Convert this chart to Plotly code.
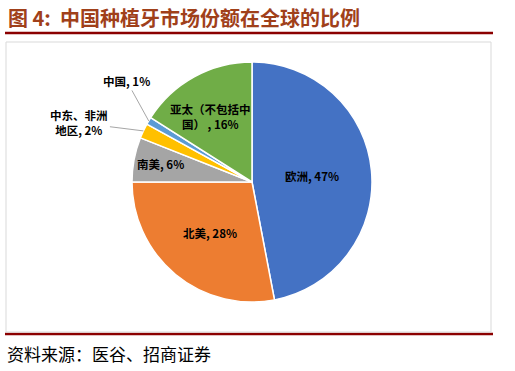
import math
import plotly.graph_objects as go

W, H = 515, 371

regions = ["欧洲", "北美", "南美", "中东、非洲地区", "中国", "亚太（不包括中国）"]
display_labels = ["欧洲", "北美", "南美", "中东、非洲<br>地区", "中国", "亚太（不包括中<br>国）"]
shares = [47, 28, 6, 2, 1, 16]
colors = ["#4472C4", "#ED7D31", "#A5A5A5", "#FFC000", "#5B9BD5", "#70AD47"]
inside_label = [True, True, True, False, False, True]

title_text = "图 4:\u00a0\u00a0中国种植牙市场份额在全球的比例"
source_text = "资料来源：医谷、招商证券"

texts = []
for l, v in zip(display_labels, shares):
    sep = " , " if l.endswith("）") else ", "
    texts.append(f"<b>{l}{sep}{v}%</b>")

def px(x):
    return x / W

def py(y):
    return 1 - y / H

# pie geometry in pixels
cx, cy, r = 252, 182, 120
font_family = "Noto Sans CJK SC"

fig = go.Figure()
fig.add_trace(go.Pie(
    labels=regions,
    values=shares,
    textinfo="none",
    sort=False,
    direction="clockwise",
    rotation=0,
    marker=dict(colors=colors, line=dict(color="white", width=1.5)),
    showlegend=False,
    hoverinfo="label+percent",
    domain=dict(x=[px(cx - r), px(cx + r)], y=[py(cy + r), py(cy - r)]),
))

# label placement (styles)
inside_radius = {0: 0.5, 1: 0.55, 2: 0.78, 5: 0.62}
inside_shift = {0: (0, 0), 1: (0, 0), 2: (0, 0), 5: (-6, 0)}
outside_offset = {3: (-64, -8), 4: (-22, -40)}

total = sum(shares)
annotations = []
cum = 0
for i, v in enumerate(shares):
    mid = (cum + v / 2) / total * 2 * math.pi
    cum += v
    if inside_label[i]:
        f = inside_radius[i]
        lx = cx + f * r * math.sin(mid)
        ly = cy - f * r * math.cos(mid)
        sx, sy = inside_shift[i]
        annotations.append(dict(
            text=texts[i], xref="paper", yref="paper", x=px(lx), y=py(ly),
            xshift=sx, yshift=sy, showarrow=False, xanchor="center", yanchor="middle",
            font=dict(family=font_family, size=11.5, color="#000000"),
        ))
    else:
        ex = cx + r * math.sin(mid)
        ey = cy - r * math.cos(mid)
        ax, ay = outside_offset[i]
        annotations.append(dict(
            text=texts[i], xref="paper", yref="paper", x=px(ex), y=py(ey),
            ax=ax, ay=ay, showarrow=True, arrowhead=0, arrowwidth=1, arrowcolor="#A6A6A6",
            font=dict(family=font_family, size=11.5, color="#000000"),
        ))

annotations += [
    dict(text="<b>" + title_text + "</b>", xref="paper", yref="paper", x=px(6), y=py(18),
         xanchor="left", yanchor="middle", showarrow=False,
         font=dict(family=font_family, size=20, color="#A0401A")),
    dict(text=source_text, xref="paper", yref="paper", x=px(5), y=py(353),
         xanchor="left", yanchor="middle", showarrow=False,
         font=dict(family=font_family, size=17, color="#000000")),
]

shapes = [
    dict(type="line", xref="paper", yref="paper", x0=px(5), x1=px(493), y0=py(33), y1=py(33),
         line=dict(color="#8B0000", width=2.5)),
    dict(type="line", xref="paper", yref="paper", x0=px(5), x1=px(493), y0=py(334), y1=py(334),
         line=dict(color="#8B0000", width=2.5)),
    dict(type="rect", xref="paper", yref="paper", x0=px(6), x1=px(491), y0=py(332), y1=py(42),
         line=dict(color="#D9D9D9", width=1), fillcolor="rgba(0,0,0,0)"),
]

fig.update_layout(
    width=W, height=H,
    margin=dict(l=0, r=0, t=0, b=0),
    paper_bgcolor="white", plot_bgcolor="white",
    shapes=shapes, annotations=annotations,
)

fig.write_html("out.html", config={"displayModeBar": False},
               post_script="document.body.style.margin='0';document.body.style.overflow='hidden';")
